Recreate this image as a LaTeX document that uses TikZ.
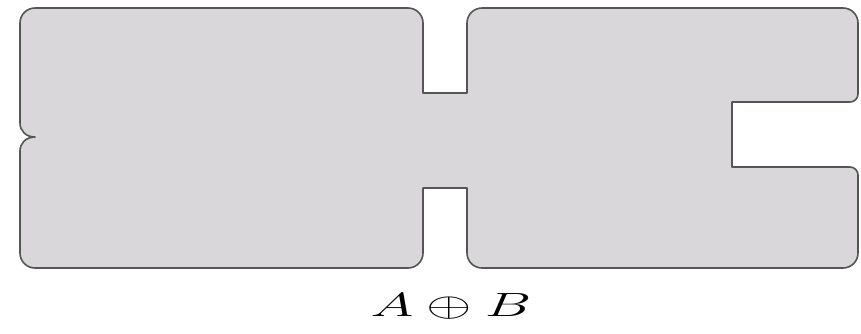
\documentclass[tikz,border=0pt]{standalone}
\usepackage{tikz}
\definecolor{plate}{RGB}{217,215,217}
\definecolor{rim}{RGB}{85,85,85}

\begin{document}
\begin{tikzpicture}[
  x=1pt, y=-1pt,
  blk/.style={draw=rim, fill=plate, line width=1.6pt, line join=round},
  lbl/.style={font=\Huge, xscale=2.35, yscale=1.35, transform shape}
]
\useasboundingbox (0,0) rectangle (861,333);

% --- Union of the two blocks ---
\draw[blk] (20,151)
  [rounded corners=15pt] -- (20,268) -- (423,268)
  [sharp corners] -- (423,188) -- (467,188)
  [rounded corners=15pt] -- (467,268) -- (858,268)
  [rounded corners=8pt] -- (858,167)
  [sharp corners] -- (732,167) -- (732,102)
  [rounded corners=8pt] -- (858,102)
  [rounded corners=15pt] -- (858,8) -- (467,8)
  [sharp corners] -- (467,93) -- (423,93)
  [rounded corners=15pt] -- (423,8) -- (20,8)
  [sharp corners] -- (20,123)
  .. controls (20,131) and (26,137) .. (35,137)
  .. controls (26,137) and (20,143) .. cycle;

% --- Caption ---
\node[lbl] (sum) at (451,306) {$A \oplus B$};
\end{tikzpicture}
\end{document}
